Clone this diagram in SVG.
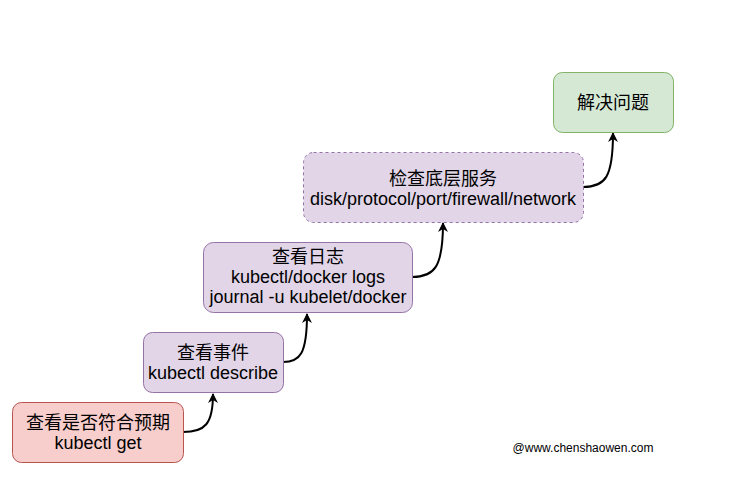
<svg xmlns="http://www.w3.org/2000/svg" width="752" height="478" viewBox="0 0 752 478">
<defs>
<style>
.t{font-family:"Liberation Sans","Noto Sans CJK SC",sans-serif;font-size:18px;fill:#000;text-anchor:middle}
.red{fill:#f8cecc;stroke:#b85450;stroke-width:1}
.pur{fill:#e1d5e7;stroke:#9673a6;stroke-width:1}
.grn{fill:#d5e8d4;stroke:#82b366;stroke-width:1}
.e{fill:none;stroke:#000;stroke-width:2;marker-end:url(#a)}
</style>
<marker id="a" viewBox="0 0 10 10" refX="9" refY="5" markerWidth="5" markerHeight="5" orient="auto" markerUnits="strokeWidth">
<path d="M0,0 L10,5 L0,10 L3,5 Z" fill="#000"/>
</marker>
</defs>
<rect width="752" height="478" fill="#fff"/>
<g id="connectors">
<path class="e" d="M183 432 C205 432 213 424 213 394"/>
<path class="e" d="M283 362 C300 362 307 354 307 314"/>
<path class="e" d="M412 277 C434 277 443 268 443 223"/>
<path class="e" d="M583 187 C605 187 613 178 613 133"/>
</g>
<g id="n1">
<rect class="red" x="12.5" y="402.5" width="171" height="60" rx="9"/>
<text class="t" x="98" y="429">查看是否符合预期</text>
<text class="t" x="98" y="449">kubectl get</text>
</g>
<g id="n2">
<rect class="pur" x="143.5" y="332.5" width="140" height="60" rx="9"/>
<text class="t" x="213" y="359">查看事件</text>
<text class="t" x="213" y="379">kubectl describe</text>
</g>
<g id="n3">
<rect class="pur" x="203.5" y="242.5" width="209" height="70" rx="10"/>
<text class="t" x="308" y="263">查看日志</text>
<text class="t" x="308" y="283">kubectl/docker logs</text>
<text class="t" x="308" y="303">journal -u kubelet/docker</text>
</g>
<g id="n4">
<rect class="pur" x="303.5" y="152.5" width="280" height="70" rx="10" stroke-dasharray="3 3"/>
<text class="t" x="443" y="184.5">检查底层服务</text>
<text class="t" x="443" y="204.5">disk/protocol/port/firewall/network</text>
</g>
<g id="n5">
<rect class="grn" x="553.5" y="72.5" width="120" height="60" rx="9"/>
<text class="t" x="613" y="109">解决问题</text>
</g>
<text x="583" y="452" style="font-family:'Liberation Sans',sans-serif;font-size:12px;text-anchor:middle">@www.chenshaowen.com</text>
</svg>
